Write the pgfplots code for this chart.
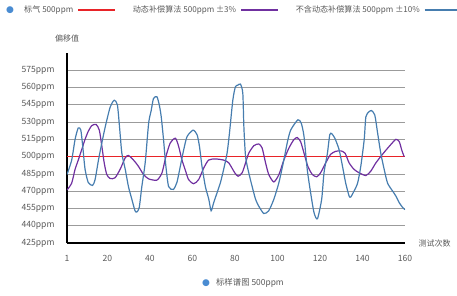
\documentclass[border=0pt]{standalone}
\usepackage{pgfplots}
\pgfplotsset{compat=1.18}
\usepackage{fontspec}
\setmainfont{Noto Sans CJK SC}
\newfontfamily\dejavu{DejaVu Sans}
\definecolor{cred}{RGB}{232,35,40}
\definecolor{cpurple}{RGB}{112,48,160}
\definecolor{cblue}{RGB}{70,125,175}
\definecolor{cdot}{RGB}{74,140,210}
\definecolor{ctext}{RGB}{89,89,89}
\definecolor{cgrid}{RGB}{155,155,155}
\begin{document}
\begin{tikzpicture}
\useasboundingbox (-67pt,-52pt) rectangle (390pt,243pt);
\begin{axis}[
  scale only axis, width=338pt, height=190pt,
  at={(0pt,0pt)}, anchor=south west,
  xmin=1, xmax=160, ymin=425, ymax=590,
  axis lines=left, axis line style={-, black, line width=1.1pt},
  xtick={1,20,40,60,80,100,120,140,160},
  ytick={425,440,455,470,485,500,515,530,545,560,575},
  yticklabel={\pgfmathprintnumber{\tick}ppm},
  /pgf/number format/assume math mode=true,
  major tick length=0pt,
  ymajorgrids, grid style={cgrid, line width=0.8pt},
  tick label style={font=\fontsize{8.6}{10}\selectfont, text=ctext},
  xticklabel style={yshift=-9pt},
  yticklabel style={xshift=-9pt},
  legend columns=-1,
  legend plot pos=right,
  legend style={draw=none, fill=none, inner sep=0pt,
    font=\fontsize{8.1}{10}\selectfont, text=ctext,
    at={(axis description cs:-0.133,1.226)}, anchor=west,
    /tikz/every even column/.append style={column sep=15pt},
    /tikz/every odd column/.append style={column sep=2pt}},
  legend image code/.code={\draw[#1, line width=1.6pt] (0pt,0pt) -- (37pt,0pt);},
]
\addplot[cred, line width=1.2pt] coordinates {(1,500) (160,500)};
\addlegendentry{标气 500ppm}
\addplot[cpurple, line width=1.2pt, smooth, tension=0.4] coordinates {
(1,471) (3.2,477) (4.8,489) (6.3,497) (7.9,506) (9.5,515) (11,522) (12.7,527)
(14.7,528) (16.2,523) (17.4,509) (18.5,494.6) (19.7,484.5) (21.3,481) (23.6,481.6)
(26,489) (28.4,499) (29.9,501) (32.3,497) (34.6,491.6) (37,484.5) (39.4,480.7)
(43.3,479.6) (45.7,486) (47.5,500) (49.6,512) (52,516) (53.5,509) (55.1,497)
(56.7,488) (58.2,480) (60.6,476.5) (62.9,480) (65.3,490) (67.6,497) (70.8,498)
(74.7,497) (77.1,494.6) (79.9,486) (81.5,483) (83.4,486) (85,494.6) (86.5,503)
(88.9,509.5) (91.2,511) (92.8,507.5) (94.4,494.6) (95.9,484.5) (98.3,478)
(100.7,484.5) (103,497) (105.4,507.5) (107.7,514.7) (109.3,516.6) (110.9,513)
(112.5,503) (114.3,491.6) (116.4,484.5) (118.5,482.5) (120.3,486) (122.7,494.6)
(125,502) (127.4,504.6) (129.8,505) (131.8,503) (133.7,494.6) (136,489)
(138.4,486) (141.6,483.6) (143.9,487.4) (146.3,494.6) (149.4,502) (152.6,509)
(155.7,515) (157.3,513) (158.5,505.5) (159.6,500)};
\addlegendentry{动态补偿算法 500ppm ±3\%}
\addplot[cblue, line width=1.2pt, smooth, tension=0.4] coordinates {
(1,484.5) (3.2,497) (4.8,515) (6.3,525) (7.5,523) (8.4,509) (9.5,489) (11,477.6)
(13,475) (14.2,480) (15.8,497) (17.4,512) (19,526) (21.3,543) (23.2,549)
(24.7,545) (25.7,526) (26.8,503) (28.4,489) (29.9,474) (31.5,463) (33,453)
(33.9,452) (35,456) (36.2,474) (37.8,495) (39.4,529) (40.6,540) (41.7,550.6)
(43.3,552) (44.4,545) (45.3,535) (46.4,515) (47.5,492) (48.8,474) (51,471.5)
(52.7,477.6) (54.3,491.6) (55.9,506) (57.5,517.5) (60.3,523) (62.2,519)
(63.3,509) (64.5,491.6) (66.1,474) (67.7,463) (68.8,453) (70,460) (71.6,468.7)
(73.2,477.6) (74.7,489) (76.3,503) (77.4,520) (79,549) (80.2,560.6) (81.3,562)
(82.6,563) (83.7,555) (84.2,526) (85,500) (86.5,486) (88.1,474) (89.7,463)
(91.2,457) (93.6,450.6) (95.9,453) (98.3,463) (100.7,477.6) (103,497)
(104.6,512) (106.2,523) (109.6,532) (111.2,529) (112.5,517.5) (114,489)
(115.6,468.7) (117.2,451.4) (118.8,446) (120.8,463) (121.9,486) (123.5,503)
(124.6,519) (125.5,520) (127,516) (129,506) (130.6,491.6) (132.1,477)
(133.7,465.8) (134.5,465) (136,470) (137.7,477) (139.2,491.6) (140.8,514.7)
(141.6,534.7) (143.1,539) (144.3,540) (145.8,536) (147.1,520.7) (148.6,503)
(150.2,489) (151.8,477) (154.2,470) (155.7,465.8) (157.3,460) (158.9,455.8)
(160,454)};
\addlegendentry{不含动态补偿算法 500ppm ±10\%}
\end{axis}
\node[text=cdot, font=\dejavu\fontsize{9}{10}\selectfont] at (-57pt,233pt) {●};
\node[text=ctext, font=\fontsize{8}{10}\selectfont] at (0pt,205pt) {偏移值};
\node[text=ctext, font=\fontsize{8}{10}\selectfont, anchor=west] at (348pt,0pt) {测试次数};
\node[text=ctext, font=\fontsize{8.4}{10}\selectfont] at (176pt,-40pt) {{\dejavu\color{cdot}\fontsize{9}{10}\selectfont ●}\hspace{6pt}标样谱图 500ppm};
\end{tikzpicture}
\end{document}
